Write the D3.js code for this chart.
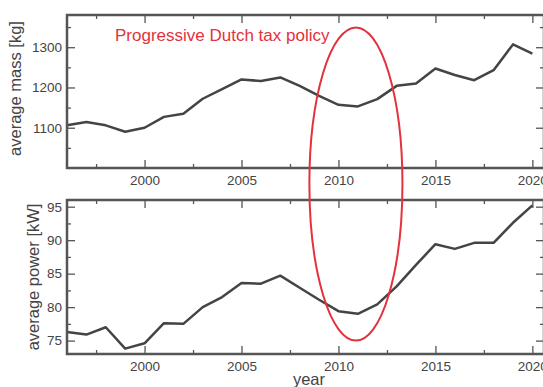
<!DOCTYPE html>
<html>
<head>
<meta charset="utf-8">
<script src="https://cdn.jsdelivr.net/npm/d3@7"></script>
<style>
  body { margin: 0; background: #fff; }
  svg { display: block; font-family: "Liberation Sans", Arial, sans-serif; }
  .tick text { font-size: 13.5px; fill: #444; }
  .tick line { stroke: #555; stroke-width: 1.3; }
  .domain { display: none; }
  .frame { fill: none; stroke: #555; stroke-width: 2.5; }
  .line { fill: none; stroke: #444; stroke-width: 2.5; stroke-linejoin: round; }
  .axis-label { font-size: 16.5px; fill: #444; }
</style>
</head>
<body>
<div id="chart"></div>
<script>
// data
const years = [1996, 1997, 1998, 1999, 2000, 2001, 2002, 2003, 2004, 2005, 2006, 2007, 2008,
               2009, 2010, 2011, 2012, 2013, 2014, 2015, 2016, 2017, 2018, 2019, 2020];
const massValues = [1106, 1114, 1106, 1090, 1100, 1127, 1135, 1172, 1196, 1220, 1216, 1225, 1204,
                    1179, 1157, 1153, 1171, 1204, 1210, 1247, 1231, 1218, 1243, 1307, 1284];
const powerValues = [76.3, 75.9, 77.0, 73.8, 74.6, 77.6, 77.5, 80.0, 81.5, 83.6, 83.5, 84.7, 82.9,
                     81.1, 79.4, 79.0, 80.4, 83.1, 86.3, 89.4, 88.7, 89.6, 89.6, 92.6, 95.2];
const yearTicks = [2000, 2005, 2010, 2015, 2020];
const massTicks = [1100, 1200, 1300];
const powerTicks = [75, 80, 85, 90, 95];
const annotationText = "Progressive Dutch tax policy";
// highlighted period: years on x, top in mass units, bottom in power units
const policyYears = [2008.5, 2013.3];
const policyMassTop = 1349;
const policyPowerBottom = 75;

const W = 543, H = 387;
const svg = d3.select("#chart").append("svg").attr("width", W).attr("height", H);

const left = 67, right = 544;
const top1 = 15, bottom1 = 168;
const top2 = 200, bottom2 = 354;

// scales
const x = d3.scaleLinear().domain([1996, 2020.6]).range([left, right]);
const yMass = d3.scaleLinear().domain([1000, 1380]).range([bottom1, top1]);
const yPower = d3.scaleLinear().domain([73, 96]).range([bottom2, top2]);

const minorYears = d3.range(1997.5, 2021, 2.5).filter(v => !yearTicks.includes(v));

function drawPanel(y, top, bottom, values, majors, minors) {
  const g = svg.append("g");
  const addAxis = (axis, tx, ty) => g.append("g")
      .attr("class", "axis")
      .attr("transform", `translate(${tx},${ty})`)
      .call(axis);

  // x ticks bottom (with labels) and top (mirror)
  addAxis(d3.axisBottom(x).tickValues(yearTicks).tickSize(-8).tickPadding(7).tickFormat(d3.format("d")), 0, bottom);
  addAxis(d3.axisBottom(x).tickValues(minorYears).tickSize(-4).tickFormat(""), 0, bottom);
  addAxis(d3.axisTop(x).tickValues(yearTicks).tickSize(-8).tickFormat(""), 0, top);
  addAxis(d3.axisTop(x).tickValues(minorYears).tickSize(-4).tickFormat(""), 0, top);

  // y ticks left (with labels) and right (mirror)
  addAxis(d3.axisLeft(y).tickValues(majors).tickSize(-8).tickPadding(5).tickFormat(d3.format("d")), left, 0);
  addAxis(d3.axisLeft(y).tickValues(minors).tickSize(-4).tickFormat(""), left, 0);
  addAxis(d3.axisRight(y).tickValues(majors).tickSize(-8).tickFormat(""), right, 0);
  addAxis(d3.axisRight(y).tickValues(minors).tickSize(-4).tickFormat(""), right, 0);

  // line
  const line = d3.line()
      .x((d, i) => x(years[i]))
      .y(d => y(d));
  g.append("path")
      .datum(values)
      .attr("class", "line")
      .attr("d", line);

  // frame
  g.append("rect")
      .attr("class", "frame")
      .attr("x", left)
      .attr("y", top)
      .attr("width", right - left)
      .attr("height", bottom - top);
}

drawPanel(yMass, top1, bottom1, massValues, massTicks, [1050, 1150, 1250, 1350]);
drawPanel(yPower, top2, bottom2, powerValues, powerTicks, [77.5, 82.5, 87.5, 92.5]);

// axis labels
svg.append("text")
    .attr("class", "axis-label")
    .attr("transform", `translate(15,${(top1 + bottom1) / 2 - 3}) rotate(-90)`)
    .attr("text-anchor", "middle")
    .attr("dy", "0.35em")
    .text("average mass [kg]");

svg.append("text")
    .attr("class", "axis-label")
    .attr("transform", `translate(33,${(top2 + bottom2) / 2}) rotate(-90)`)
    .attr("text-anchor", "middle")
    .attr("dy", "0.35em")
    .text("average power [kW]");

svg.append("text")
    .attr("class", "axis-label")
    .attr("x", 309)
    .attr("y", 385)
    .attr("text-anchor", "middle")
    .text("year");

// annotation
svg.append("text")
    .attr("x", 115)
    .attr("y", 41)
    .attr("font-size", "17px")
    .attr("fill", "#e3323c")
    .text(annotationText);

const ex0 = x(policyYears[0]), ex1 = x(policyYears[1]);
const ey0 = yMass(policyMassTop), ey1 = yPower(policyPowerBottom);
svg.append("ellipse")
    .attr("cx", (ex0 + ex1) / 2)
    .attr("cy", (ey0 + ey1) / 2)
    .attr("rx", (ex1 - ex0) / 2)
    .attr("ry", (ey1 - ey0) / 2)
    .attr("fill", "none")
    .attr("stroke", "#e3323c")
    .attr("stroke-width", 2);
</script>
</body>
</html>
